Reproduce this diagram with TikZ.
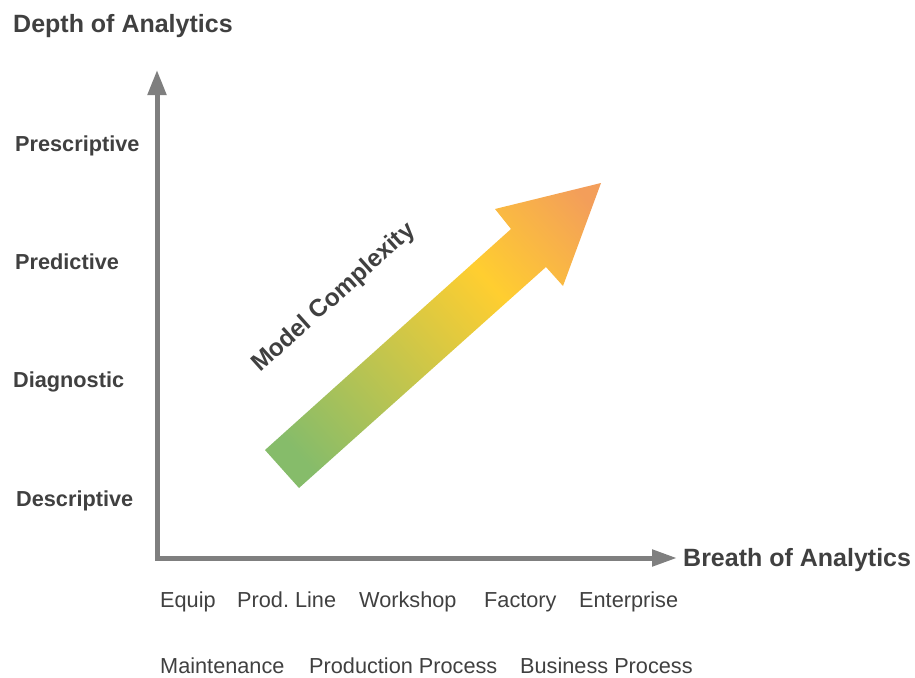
\documentclass[tikz,border=0pt]{standalone}
\usepackage{fontspec}
\setmainfont{Liberation Sans}
\usetikzlibrary{arrows.meta,positioning}
\definecolor{axisgray}{RGB}{127,127,127}
\definecolor{txtgray}{RGB}{64,64,64}
\definecolor{shgreen}{RGB}{134,188,106}
\definecolor{shyellow}{RGB}{255,206,48}
\definecolor{shorange}{RGB}{243,158,90}
\pgfdeclarehorizontalshading{growth}{100bp}{color(0bp)=(shgreen); color(22bp)=(shgreen);
  color(62bp)=(shyellow); color(82bp)=(shorange); color(100bp)=(shorange)}

\begin{document}
\begin{tikzpicture}[x=1pt,y=-1pt,
  axis/.style={draw=axisgray,line width=5pt,
    {Triangle[length=25pt,width=18pt]}-{Triangle[length=25pt,width=16pt]}},
  ttl/.style={text=txtgray,font=\fontsize{25}{30}\selectfont\bfseries,inner sep=0pt},
  lvl/.style={text=txtgray,font=\fontsize{21.7}{26}\selectfont\bfseries,anchor=base west,inner sep=0pt},
  scp/.style={text=txtgray,font=\fontsize{21.7}{26}\selectfont,anchor=base west,inner sep=0pt}]

  \useasboundingbox (0,0) rectangle (915,677);

  % axes
  \coordinate (origin) at (157,558);
  \coordinate (ytip) at (157,70);
  \coordinate (xtip) at (677,558);
  \draw[axis] (ytip) |- (xtip);

  \node[ttl,anchor=base west] (depth) at (13,33) {Depth of Analytics};
  \node[ttl,anchor=base west] (breath) at ([xshift=6pt,yshift=-8pt]xtip) {Breath of Analytics};

  % levels of depth
  \node[lvl] (presc) at (15,151) {Prescriptive};
  \node[lvl] (pred) at (15,269) {Predictive};
  \node[lvl] (diag) at (13,387) {Diagnostic};
  \node[lvl] (desc) at (16,506) {Descriptive};

  % scope of breath
  \node[scp] (equip) at (160,607) {Equip};
  \node[scp] (prodline) at (237,607) {Prod.\ Line};
  \node[scp] (workshop) at (359,607) {Workshop};
  \node[scp] (factory) at (484,607) {Factory};
  \node[scp] (enterprise) at (579,607) {Enterprise};
  \node[scp] (maint) at (160,673) {Maintenance};
  \node[scp] (prodproc) at (309,673) {Production Process};
  \node[scp] (busproc) at (520,673) {Business Process};

  % big arrow
  \shade[shading=growth,shading angle=42] (265,450) -- (511,229) -- (495,209) -- (601,183)
    -- (563,286) -- (546,267) -- (299,488) -- cycle;
  \node[text=txtgray,font=\fontsize{24.5}{29}\selectfont\bfseries,rotate=42,inner sep=0pt]
    (cplx) at (334,298) {Model Complexity};

\end{tikzpicture}
\end{document}
